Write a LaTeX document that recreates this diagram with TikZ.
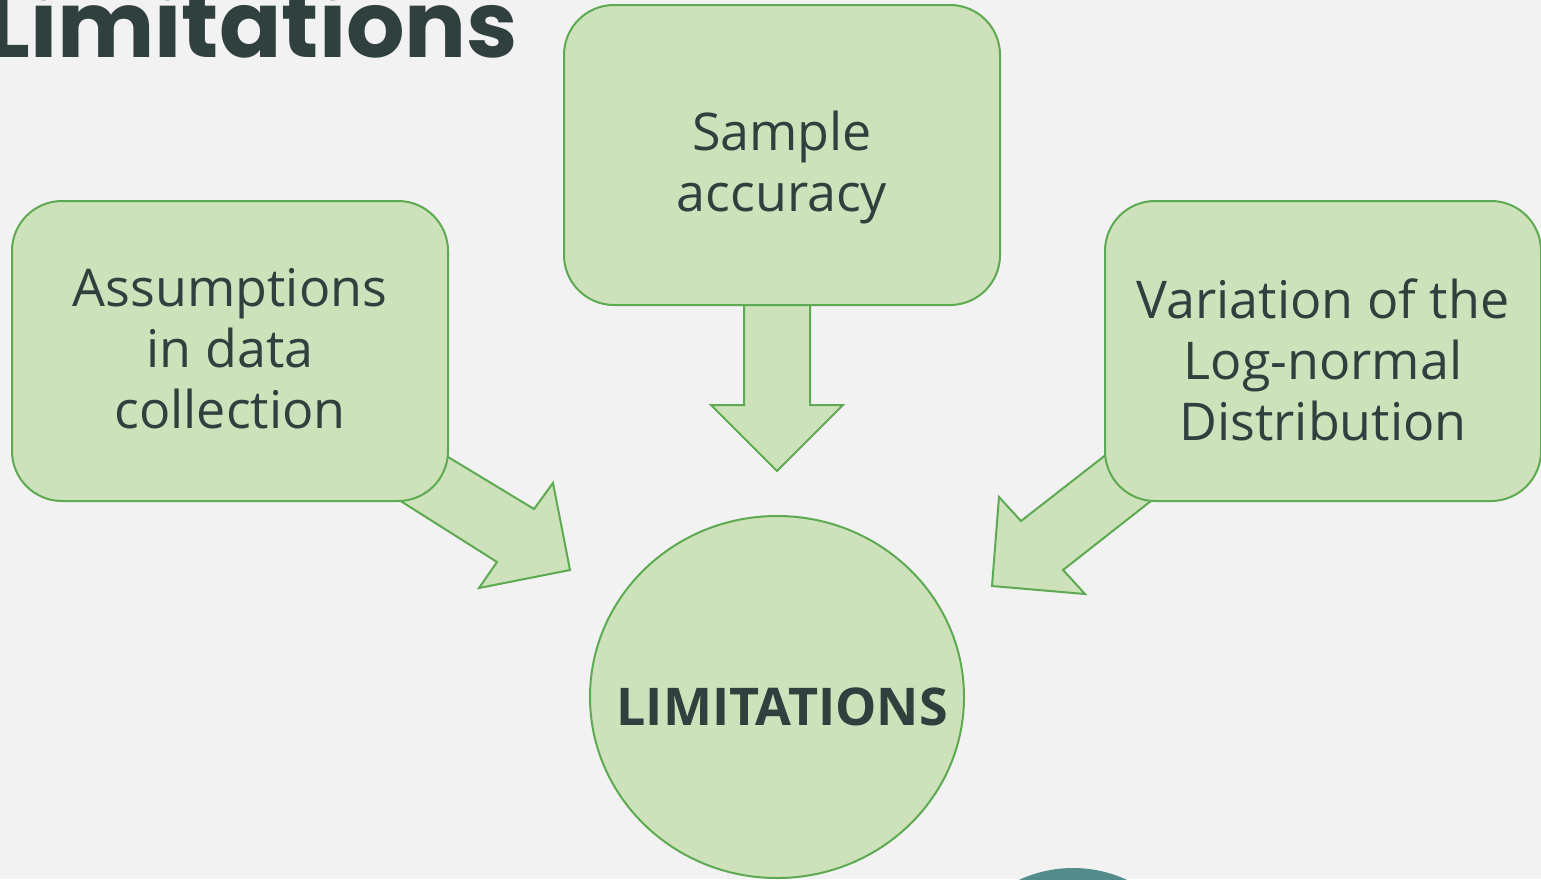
\documentclass[tikz,border=0pt]{standalone}
\usepackage{fontspec}
\setmainfont{Open Sans}
\newfontfamily\titlefont{Poppins}
\usetikzlibrary{shapes.geometric}
\definecolor{pagebg}{RGB}{242,242,242}
\definecolor{boxfill}{RGB}{205,226,186}
\definecolor{boxline}{RGB}{94,170,82}
\definecolor{inkdark}{RGB}{47,64,62}
\definecolor{tealblob}{RGB}{84,140,140}

\begin{document}
\begin{tikzpicture}[x=0.5pt, y=-0.5pt,
  every node/.style={text=inkdark},
  causebox/.style={draw=boxline, fill=boxfill, line width=1pt, rounded corners=25pt,
    minimum width=218pt, minimum height=150pt, inner sep=0pt},
  causetext/.style={align=center, inner sep=0pt, font=\fontsize{26}{30.5}\selectfont},
  blockarrow/.style={draw=boxline, fill=boxfill, line width=1pt, line join=miter}]
  \fill[pagebg] (0,0) rectangle (1541,879);
  \useasboundingbox (0,0) rectangle (1541,879);
  \fill[tealblob] (1073,996) circle[radius=64pt];

  \draw[blockarrow] (744,300) -- (744,405) -- (711,405) -- (777,471) -- (843,405) -- (810,405) -- (810,300) -- cycle;
  \draw[blockarrow] (420,440) -- (534,509) -- (553,483) -- (570,570) -- (479,588) -- (497,562) -- (380,488) -- cycle;
  \draw[blockarrow] (1130,436) -- (1021,521) -- (999,497) -- (992,586) -- (1085,594) -- (1063,570) -- (1170,486) -- cycle;

  \node[causebox] (assume) at (230,351) {};
  \node[causetext] (assumetxt) at (230,349) {Assumptions\\in data\\collection};
  \node[causebox] (sample) at (782,155) {};
  \node[causetext] (sampletxt) at (782,167) {Sample\\accuracy};
  \node[causebox] (lognorm) at (1323,351) {};
  \node[causetext] (lognormtxt) at (1323,360) {Variation of the\\Log-normal\\Distribution};
  \node[ellipse, draw=boxline, fill=boxfill, line width=1pt, inner sep=0pt,
    minimum width=187pt, minimum height=181pt] (limits) at (777,697) {};
  \node[inner sep=0pt, font=\fontsize{26}{30}\selectfont\bfseries] (limitstxt) at (782,707) {LIMITATIONS};

  \node[anchor=base west, inner sep=0pt, font=\titlefont\fontsize{46}{50}\selectfont\bfseries] (title) at (-14,57) {Limitations};
\end{tikzpicture}
\end{document}
